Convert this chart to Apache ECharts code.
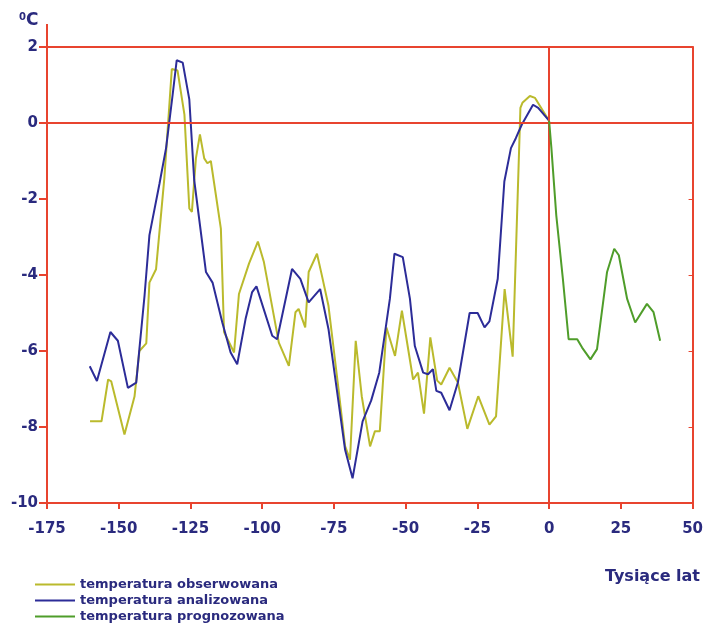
<!DOCTYPE html>
<html><head><meta charset="utf-8">
<script src="https://cdn.jsdelivr.net/npm/echarts@6/dist/echarts.min.js"></script>
<style>html,body{margin:0;padding:0;background:#fff}#c{width:706px;height:634px}</style>
</head><body><div id="c"></div>
<script>
// ---- data (thousands of years, °C) ----
const obsX = [-160,-156,-153.7,-152.6,-148,-144.5,-142.8,-140.4,-139.3,-137,-134.1,-131.5,-129.5,-127.1,-125.4,-124.5,-123.1,-121.7,-120.2,-119.1,-117.9,-114.4,-113.3,-109.8,-108.1,-104.6,-101.5,-99.4,-94.2,-90.7,-88.4,-87.3,-85,-83.8,-80.9,-79.2,-76.9,-73.4,-71.1,-69.4,-67.4,-65.3,-62.4,-60.7,-59,-56.7,-53.7,-51.3,-47.4,-45.7,-43.6,-41.4,-39,-37.6,-34.7,-31.8,-28.5,-24.7,-20.8,-18.5,-15.5,-12.7,-10,-9.3,-6.7,-4.9,0];
const obsT = [-7.85,-7.85,-6.75,-6.8,-8.2,-7.2,-6.0,-5.8,-4.2,-3.85,-1.45,1.42,1.38,0.22,-2.25,-2.34,-0.93,-0.3,-0.93,-1.06,-1.0,-2.78,-5.5,-6.04,-4.5,-3.7,-3.12,-3.66,-5.78,-6.39,-4.98,-4.89,-5.38,-3.92,-3.44,-4.01,-4.81,-7.0,-8.5,-8.86,-5.73,-7.19,-8.51,-8.11,-8.11,-5.38,-6.13,-4.94,-6.75,-6.57,-7.65,-5.64,-6.78,-6.88,-6.44,-6.83,-8.05,-7.19,-7.94,-7.72,-4.37,-6.15,0.4,0.53,0.71,0.66,0.06];
const anaX = [-160.1,-157.6,-152.9,-150.3,-146.8,-143.9,-142.8,-141,-139.3,-135.8,-133.5,-131.2,-129.8,-127.7,-125.4,-123.7,-119.6,-117.3,-113.9,-111,-108.7,-105.8,-103.5,-102,-96.5,-94.8,-89.6,-86.7,-83.8,-79.8,-76.9,-71.1,-68.5,-65,-62,-59.2,-55.5,-53.9,-51,-48.5,-46.8,-43.9,-42.2,-40.5,-39.3,-37.6,-34.7,-31.8,-27.7,-24.9,-22.5,-20.8,-17.9,-15.6,-13.3,-11.6,-9.5,-5.6,-3.8,0];
const anaT = [-6.4,-6.79,-5.5,-5.73,-6.97,-6.83,-5.95,-4.54,-2.95,-1.6,-0.66,0.75,1.65,1.59,0.62,-1.5,-3.92,-4.2,-5.25,-6.04,-6.35,-5.16,-4.45,-4.3,-5.6,-5.69,-3.84,-4.1,-4.72,-4.37,-5.42,-8.6,-9.35,-7.85,-7.3,-6.57,-4.63,-3.44,-3.53,-4.63,-5.87,-6.57,-6.61,-6.48,-7.05,-7.1,-7.56,-6.83,-5.0,-5.0,-5.38,-5.22,-4.1,-1.54,-0.66,-0.4,-0.04,0.48,0.4,0.06];
const prgX = [0,0.8,2.5,4.8,6.8,9.8,11.5,14.4,16.7,20.2,22.7,24.3,27.2,30,34.1,36.4,38.7];
const prgT = [0.06,-0.66,-2.43,-4.1,-5.69,-5.69,-5.91,-6.22,-5.95,-3.92,-3.31,-3.48,-4.63,-5.25,-4.76,-4.98,-5.73];
const xTicks = {min:-175, max:50, step:25};
const yTicks = {min:-10, max:2, step:2};
const names = ['temperatura obserwowana','temperatura analizowana','temperatura prognozowana'];
const xTitle = 'Tysiące lat';

const RED = '#e8442f', NAVY = '#2a2a7e';
const FONT = 'DejaVu Sans';
const pairs = (xs, ys) => xs.map((x, i) => [x, ys[i]]);

const chart = echarts.init(document.getElementById('c'), null, {renderer:'canvas'});
const option = {
  backgroundColor:'#fff',
  animation:false,
  grid:{left:47, right:13, top:47, bottom:131},
  legend:{
    orient:'vertical', left:30, top:573, itemWidth:40, itemHeight:2, itemGap:3,
    icon:'rect',
    textStyle:{color:NAVY, fontFamily:FONT, fontWeight:'bold', fontSize:13},
    data:names
  },
  xAxis:[{
    type:'value', min:xTicks.min, max:xTicks.max, interval:xTicks.step,
    axisLine:{onZero:false, lineStyle:{color:RED, width:2}},
    axisTick:{show:true, length:6, lineStyle:{color:RED, width:2}},
    axisLabel:{color:NAVY, fontFamily:FONT, fontWeight:'bold', fontSize:15, margin:19},
    splitLine:{show:false}
  },{
    type:'value', position:'top', min:xTicks.min, max:xTicks.max,
    axisLine:{show:true, onZero:false, lineStyle:{color:RED, width:2}},
    axisTick:{show:false}, axisLabel:{show:false}, splitLine:{show:false}
  }],
  yAxis:[{
    type:'value', min:yTicks.min, max:yTicks.max, interval:yTicks.step,
    axisLine:{show:true, onZero:false, lineStyle:{color:RED, width:2}},
    axisTick:{show:true, length:8, lineStyle:{color:RED, width:2}},
    axisLabel:{color:NAVY, fontFamily:FONT, fontWeight:'bold', fontSize:15, margin:9},
    splitLine:{show:false}
  },{
    type:'value', position:'right', min:yTicks.min, max:yTicks.max, interval:yTicks.step,
    axisLine:{show:true, onZero:false, lineStyle:{color:RED, width:2}},
    axisTick:{show:true, inside:true, length:4, lineStyle:{color:RED, width:1}},
    axisLabel:{show:false}, splitLine:{show:false}
  }],
  series:[
    {name:names[0], type:'line', data:pairs(obsX, obsT), showSymbol:false, symbol:'none',
     lineStyle:{color:'#baba2c', width:2}, itemStyle:{color:'#baba2c'}, z:3,
     markLine:{silent:true, symbol:'none', label:{show:false},
       lineStyle:{color:RED, width:2, type:'solid'},
       data:[{yAxis:0},{xAxis:0}]}},
    {name:names[1], type:'line', data:pairs(anaX, anaT), showSymbol:false, symbol:'none',
     lineStyle:{color:'#2c2c98', width:2}, itemStyle:{color:'#2c2c98'}, z:4},
    {name:names[2], type:'line', data:pairs(prgX, prgT), showSymbol:false, symbol:'none',
     lineStyle:{color:'#4f9d2a', width:2}, itemStyle:{color:'#4f9d2a'}, z:5}
  ]
};
chart.setOption(option);

// extension of the y axis above the top frame, the unit label and the x title
const corner = chart.convertToPixel({xAxisIndex:0, yAxisIndex:0}, [xTicks.min, yTicks.max]);
chart.setOption({
  graphic:[
    {type:'line', shape:{x1:corner[0], y1:corner[1]-23, x2:corner[0], y2:corner[1]}, style:{stroke:RED, lineWidth:2}},
    {type:'text', x:corner[0]-28, y:corner[1]-35, style:{
      text:'{s|0}{c|C}', rich:{
        s:{fontSize:10, fontWeight:'bold', fontFamily:FONT, fill:NAVY, verticalAlign:'top', padding:[0,0,7,0]},
        c:{fontSize:17, fontWeight:'bold', fontFamily:FONT, fill:NAVY}
      }}},
    {type:'text', right:6, top:569, style:{text:xTitle, font:'bold 16px "DejaVu Sans"', fill:NAVY}}
  ]
});
</script></body></html>
